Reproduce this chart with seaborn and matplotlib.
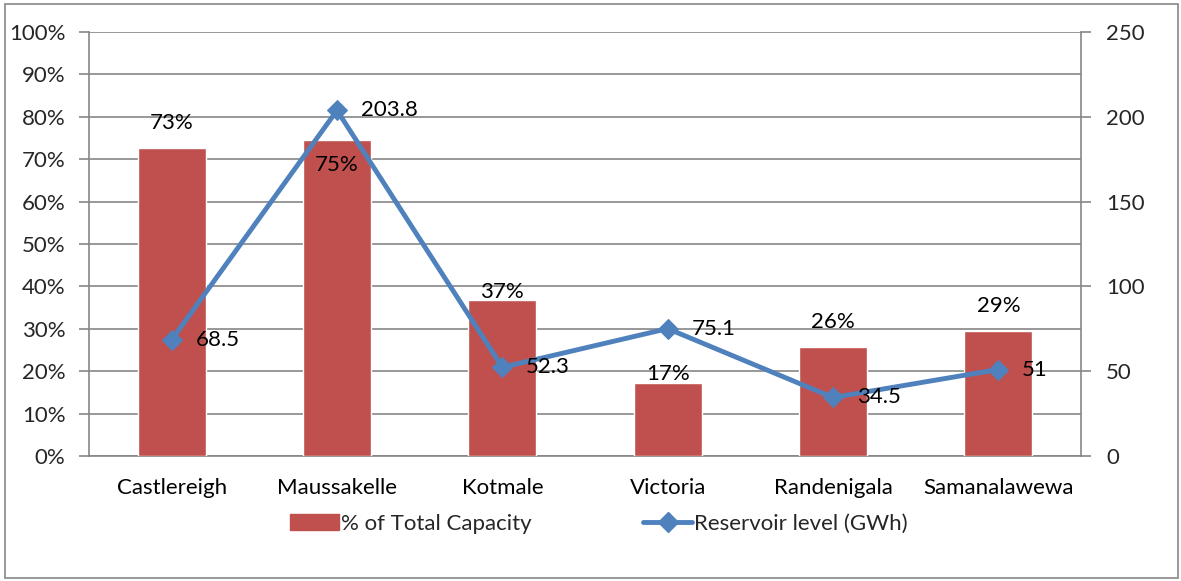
import matplotlib
matplotlib.use("Agg")
import matplotlib.pyplot as plt
import seaborn as sns
import numpy as np
import pandas as pd
from matplotlib.patches import Rectangle
from matplotlib.lines import Line2D
from matplotlib.patches import Patch

categories = ["Castlereigh", "Maussakelle", "Kotmale", "Victoria", "Randenigala", "Samanalawewa"]
pct_capacity = [72.6, 74.6, 36.8, 17.1, 25.6, 29.4]
pct_labels = ["73%", "75%", "37%", "17%", "26%", "29%"]
reservoir_gwh = [68.5, 203.8, 52.3, 75.1, 34.5, 51]
reservoir_labels = ["68.5", "203.8", "52.3", "75.1", "34.5", "51"]

# label offsets (points) relative to bar tops, mimicking Excel placement
pct_label_dy = [18, -18, 6, 7, 18, 18]

BAR = "#C0504D"
LINE = "#4F81BD"
GRID = "#868686"
FS = 16

sns.set_theme(style="white")
plt.rcParams["font.family"] = ["Lato", "DejaVu Sans"]

fig = plt.figure(figsize=(11.81, 5.81), dpi=100)
ax = fig.add_axes([89/1181, 1-456/581, (1081-89)/1181, (456-32)/581])

df = pd.DataFrame({"cat": categories, "pct": pct_capacity})
sns.barplot(data=df, x="cat", y="pct", color=BAR, saturation=1, width=0.41, ax=ax, zorder=3)
ax.set_xlim(-0.5, len(categories) - 0.5)
ax.set_ylim(0, 100)
ax.set_yticks(np.arange(0, 101, 10))
ax.set_yticklabels([f"{v}%" for v in range(0, 101, 10)])
ax.yaxis.grid(True, color=GRID, linewidth=1.2, zorder=0)
ax.set_axisbelow(True)
ax.set_xlabel("")
ax.set_ylabel("")
ax.set_xticks(np.arange(len(categories)))
ax.set_xticklabels(categories)
ax.set_xticks(np.arange(-0.5, len(categories)), minor=True)
ax.tick_params(axis="x", which="major", length=0, pad=16, labelsize=FS, colors="black")
ax.tick_params(axis="x", which="minor", length=7, width=1.2, color=GRID, direction="out")
ax.tick_params(axis="y", length=7, width=1.2, color=GRID, direction="out", labelsize=FS, pad=10)
for s in ["top", "right"]:
    ax.spines[s].set_visible(False)
for s in ["left", "bottom"]:
    ax.spines[s].set_color(GRID)
    ax.spines[s].set_linewidth(1.2)

for i, (v, lab, dy) in enumerate(zip(pct_capacity, pct_labels, pct_label_dy)):
    ax.annotate(lab, (i, v), xytext=(0, dy), textcoords="offset points",
                ha="center", va="center", fontsize=FS, color="black", zorder=6)

ax2 = ax.twinx()
sns.lineplot(x=np.arange(len(categories)), y=reservoir_gwh, ax=ax2, color=LINE,
             linewidth=3.5, marker="D", markersize=10, markeredgecolor=LINE, zorder=5)
ax2.set_ylim(0, 250)
ax2.set_yticks(np.arange(0, 251, 50))
ax2.tick_params(axis="y", length=7, width=1.2, color=GRID, direction="out", labelsize=FS, pad=11)
for s in ["top", "left", "bottom"]:
    ax2.spines[s].set_visible(False)
ax2.spines["right"].set_color(GRID)
ax2.spines["right"].set_linewidth(1.2)
ax2.grid(False)
ax2.set_ylabel("")

for i, (v, lab) in enumerate(zip(reservoir_gwh, reservoir_labels)):
    ax2.annotate(lab, (i, v), xytext=(17, 0), textcoords="offset points",
                 ha="left", va="center", fontsize=FS, color="black", zorder=6)

handles = [Patch(facecolor=BAR, edgecolor=BAR),
           Line2D([0], [0], color=LINE, linewidth=3.5, marker="D", markersize=10)]
fig.legend(handles, ["% of Total Capacity", "Reservoir level (GWh)"],
           loc="center", bbox_to_anchor=(599/1181, 1-524/581), ncol=2, frameon=False,
           fontsize=FS, handlelength=2.2, columnspacing=5.0, handletextpad=0.1)

fig.patches.append(Rectangle((5/1181, 3/581), 1173/1181, 574/581, transform=fig.transFigure,
                             fill=False, edgecolor=GRID, linewidth=1.2))

fig.savefig("out.png", dpi=100)
